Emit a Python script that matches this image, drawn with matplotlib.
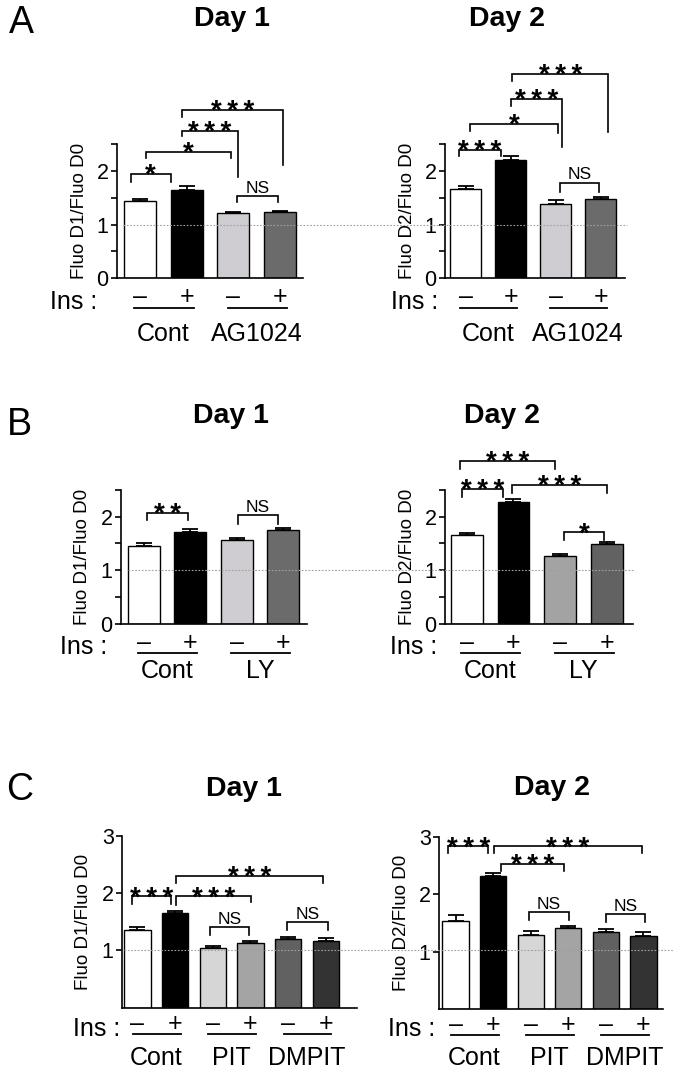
import matplotlib

matplotlib.use("Agg")
import matplotlib.pyplot as plt
import matplotlib.transforms as mtransforms
from matplotlib.lines import Line2D
import numpy as np

plt.rcParams["font.family"] = ["Liberation Sans", "DejaVu Sans"]

# ---- data ----
ins_signs = ["-", "+"]

a_groups = ["Cont", "AG1024"]
a_day1_mean = [1.43, 1.64, 1.22, 1.23]
a_day1_sem = [0.04, 0.07, 0.02, 0.02]
a_day2_mean = [1.66, 2.20, 1.39, 1.48]
a_day2_sem = [0.05, 0.07, 0.06, 0.04]

b_groups = ["Cont", "LY"]
b_day1_mean = [1.46, 1.72, 1.57, 1.75]
b_day1_sem = [0.04, 0.05, 0.04, 0.03]
b_day2_mean = [1.66, 2.27, 1.27, 1.49]
b_day2_sem = [0.04, 0.05, 0.04, 0.04]

c_groups = ["Cont", "PIT", "DMPIT"]
c_day1_mean = [1.36, 1.66, 1.05, 1.12, 1.20, 1.16]
c_day1_sem = [0.05, 0.03, 0.02, 0.04, 0.03, 0.05]
c_day2_mean = [1.54, 2.31, 1.30, 1.42, 1.35, 1.28]
c_day2_sem = [0.10, 0.06, 0.06, 0.03, 0.04, 0.06]

# significance brackets: (x_left, x_right, y_top, y_leg_left, y_leg_right, label)
a_day1_sig = [(-0.20, 0.66, 1.94, 1.80, 1.80, "*"), (0.12, 1.95, 2.36, 2.24, 2.24, "*"),
              (0.91, 2.09, 2.75, 2.64, 1.89, "***"), (0.91, 3.07, 3.14, 3.01, 2.10, "***"),
              (2.08, 2.95, 1.53, 1.42, 1.42, "NS")]
a_day2_sig = [(-0.14, 0.78, 2.39, 2.27, 2.27, "***"), (0.10, 2.04, 2.88, 2.75, 2.71, "*"),
              (1.00, 2.15, 3.34, 3.21, 2.45, "***"), (1.03, 3.17, 3.81, 3.67, 2.73, "***"),
              (2.10, 2.97, 1.78, 1.61, 1.61, "NS")]
b_day1_sig = [(0.07, 0.96, 2.06, 1.93, 1.93, "**"), (2.03, 2.89, 2.02, 1.86, 1.86, "NS")]
b_day2_sig = [(-0.09, 0.77, 2.52, 2.37, 2.37, "***"), (-0.14, 1.88, 3.04, 2.89, 2.89, "***"),
              (0.96, 2.99, 2.58, 2.43, 2.43, "***"), (2.07, 2.94, 1.71, 1.57, 1.57, "*")]
c_day1_sig = [(-0.15, 0.90, 1.94, 1.81, 1.81, "***"), (1.03, 3.02, 1.94, 1.79, 1.84, "***"),
              (1.03, 4.94, 2.30, 2.17, 2.17, "***"), (1.93, 2.97, 1.40, 1.27, 1.27, "NS"),
              (3.98, 5.05, 1.49, 1.35, 1.35, "NS")]
c_day2_sig = [(-0.19, 0.87, 2.83, 2.71, 2.71, "***"), (1.02, 4.96, 2.83, 2.71, 2.71, "***"),
              (1.22, 2.88, 2.53, 2.40, 2.40, "***"), (1.95, 3.01, 1.69, 1.56, 1.56, "NS"),
              (4.01, 5.05, 1.65, 1.51, 1.51, "NS")]

# ---- layout ----
W, H = 679, 1069
fig = plt.figure(figsize=(W / 100, H / 100), dpi=100)
fig.patch.set_facecolor("white")

col_ab = ["none", "black", "#cfcdd2", "#6b6b6b"]
col_b2 = ["none", "black", "#a3a3a3", "#626262"]
col_c = ["none", "black", "#d6d6d6", "#a4a4a4", "#616161", "#333333"]


def fy(y):
    return 1 - y / H


def star_text(label):
    if label.startswith("*"):
        return "\u2009".join(label)
    return label


def draw_panel(box, xlim, ymax, means, sems, colors, groups, sig, ylabel, rows, width):
    left, right, y0, ytop = box
    ax = fig.add_axes([left / W, fy(y0), (right - left) / W, (y0 - ytop) / H])
    x = np.arange(len(means))
    ax.bar(x, means, width=width, color=colors, edgecolor="black", linewidth=1.0, zorder=2)
    ax.errorbar(x, means, yerr=[np.zeros(len(sems)), sems], fmt="none", ecolor="black",
                elinewidth=1.3, capsize=5.5, capthick=1.3, zorder=3)
    ax.set_xlim(*xlim)
    ax.set_ylim(0, ymax)
    for s in ("top", "right"):
        ax.spines[s].set_visible(False)
    for s in ("left", "bottom"):
        ax.spines[s].set_linewidth(1.2)
    ax.set_xticks([])
    if ymax < 3:
        ax.set_yticks([0, 1, 2])
        ax.set_yticks([0.5, 1.5, 2.5], minor=True)
    else:
        ax.set_yticks([1, 2, 3])
    ax.tick_params(axis="y", which="both", length=4, width=1.2, labelsize=15.5, pad=2)
    ax.set_facecolor("none")

    ax.text(-38 / (right - left), 0.5, ylabel, transform=ax.transAxes, rotation=90,
            ha="center", va="center", fontsize=13.5)

    # brackets
    for xl, xr, yt, yl, yr, lab in sig:
        ax.plot([xl, xl, xr, xr], [yl, yt, yt, yr], color="black", lw=1.2,
                clip_on=False, zorder=4, solid_joinstyle="miter")
        if lab == "NS":
            ax.annotate(lab, xy=((xl + xr) / 2, yt), xytext=(0, 2.5), textcoords="offset points",
                        ha="center", va="baseline", fontsize=12.5, annotation_clip=False)
        else:
            ax.annotate(star_text(lab), xy=((xl + xr) / 2, yt), xytext=(0, -6.5),
                        textcoords="offset points", ha="center", va="baseline",
                        fontsize=20, fontweight="bold", annotation_clip=False)

    # insulin row and group labels
    line_y, label_base, ins_x = rows
    tr = mtransforms.blended_transform_factory(ax.transData, fig.transFigure)
    for i, m in enumerate(means):
        sign = ins_signs[i % 2]
        ax.text(i, fy(line_y - 3), "\u2013" if sign == "-" else "+", transform=tr,
                ha="center", va="baseline", fontsize=18)
    for g, name in enumerate(groups):
        i0, i1 = 2 * g, 2 * g + 1
        ax.add_line(Line2D([i0 - 0.12, i1 + 0.15], [fy(line_y), fy(line_y)], transform=tr,
                           color="black", lw=1.3, clip_on=False))
        ax.text((i0 + i1) / 2, fy(label_base), name, transform=tr, ha="center",
                va="baseline", fontsize=18)
    fig.text(ins_x / W, fy(line_y + 1.5), "Ins :", ha="right", va="baseline", fontsize=18)
    return ax


panels = [
    # box(left,right,y0,ytop), xlim, ymax, mean, sem, colors, groups, sig, ylabel, rows, width
    ((117, 303, 278.3, 144.0), (-0.49, 3.49), 2.5, a_day1_mean, a_day1_sem, col_ab, a_groups,
     a_day1_sig, "Fluo D1/Fluo D0", (307.5, 341, 97), 0.68),
    ((445, 625, 278.3, 144.0), (-0.46, 3.54), 2.5, a_day2_mean, a_day2_sem, col_ab, a_groups,
     a_day2_sig, "Fluo D2/Fluo D0", (307.5, 341, 438), 0.68),
    ((121, 307, 624.0, 489.7), (-0.49, 3.51), 2.5, b_day1_mean, b_day1_sem, col_ab, b_groups,
     b_day1_sig, "Fluo D1/Fluo D0", (653, 678, 107), 0.68),
    ((445, 633, 624.0, 489.7), (-0.46, 3.55), 2.5, b_day2_mean, b_day2_sem, col_b2, b_groups,
     b_day2_sig, "Fluo D2/Fluo D0", (653, 678, 437), 0.68),
    ((122, 357, 1007.7, 835.7), (-0.41, 5.83), 3, c_day1_mean, c_day1_sem, col_c, c_groups,
     c_day1_sig, "Fluo D1/Fluo D0", (1034, 1065, 120), 0.70),
    ((439, 663, 1009.3, 836.7), (-0.44, 5.52), 3, c_day2_mean, c_day2_sem, col_c, c_groups,
     c_day2_sig, "Fluo D2/Fluo D0", (1035, 1065, 435), 0.70),
]

axes = [draw_panel(*p) for p in panels]

# dotted reference line at y = 1 running across each pair of plots
fig.canvas.draw()
for ax_l, x0, x1 in [(axes[0], 123, 627), (axes[2], 128, 633), (axes[4], 124, 673)]:
    ypix = ax_l.transData.transform((0, 1))[1]
    fig.add_artist(Line2D([x0 / W, x1 / W], [ypix / H, ypix / H], transform=fig.transFigure,
                          color="#a0a0a0", lw=0.8, ls=(0, (1.5, 1.5)), zorder=0.5))

# titles and panel letters
for txt, x, y in [("Day 1", 232, 26), ("Day 2", 507, 26), ("Day 1", 231, 423),
                  ("Day 2", 502, 423), ("Day 1", 243.5, 796.5), ("Day 2", 552.5, 795)]:
    fig.text(x / W, fy(y), txt, ha="center", va="baseline", fontsize=20.5, fontweight="bold")
for txt, x, y in [("A", 21, 33), ("B", 19.5, 435), ("C", 20, 800)]:
    fig.text(x / W, fy(y), txt, ha="center", va="baseline", fontsize=27)

fig.savefig("out.png", dpi=100, facecolor="white")
